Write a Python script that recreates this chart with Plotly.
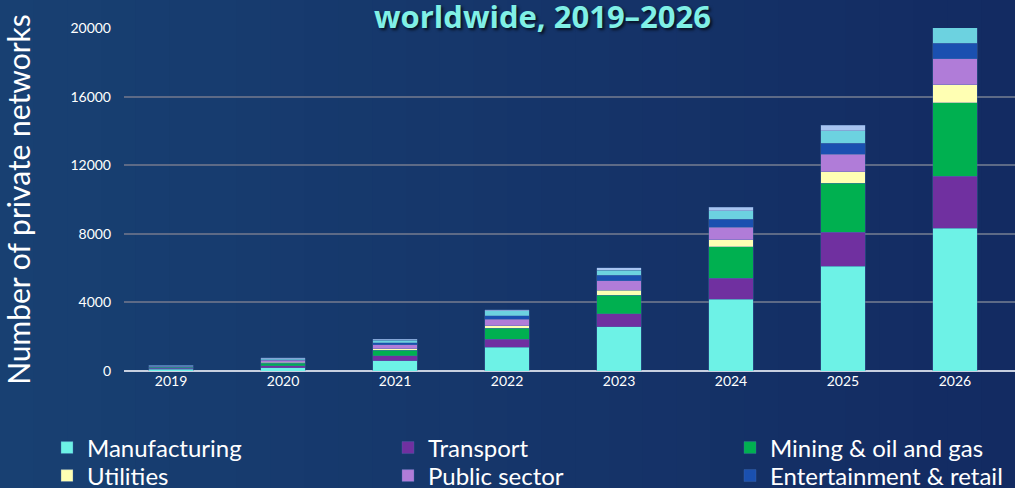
import plotly.graph_objects as go

years = ["2019", "2020", "2021", "2022", "2023", "2024", "2025", "2026"]
manufacturing = [110, 195, 600, 1380, 2585, 4180, 6120, 8320]
transport = [60, 115, 290, 485, 755, 1225, 1965, 3050]
mining = [55, 155, 310, 625, 1090, 1845, 2860, 4275]
utilities = [20, 60, 100, 150, 290, 390, 675, 1050]
public_sector = [45, 100, 235, 390, 530, 740, 1030, 1515]
entertainment = [20, 35, 115, 195, 330, 465, 625, 890]
healthcare = [25, 60, 140, 275, 290, 485, 735, 1300]
other = [15, 40, 60, 60, 155, 215, 315, 400]

y_ticks = [0, 4000, 8000, 12000, 16000, 20000]

# name, values, colour, legend id (None = not in visible legend)
series = [
    ("Manufacturing", manufacturing, "#6df2e6", "legend"),
    ("Transport", transport, "#7030a0", "legend2"),
    ("Mining & oil and gas", mining, "#00b050", "legend3"),
    ("Utilities", utilities, "#ffffb3", "legend4"),
    ("Public sector", public_sector, "#b07cd8", "legend5"),
    ("Entertainment & retail", entertainment, "#1a50b0", "legend6"),
    ("Healthcare", healthcare, "#6cd2e0", None),
    ("Other", other, "#a8c4f0", None),
]

W, H = 1015, 488
L, R, T, B = 124, 0, 28, 117
PW, PH = W - L - R, H - T - B

fig = go.Figure()
for name, vals, col, leg in series:
    kw = dict(legend=leg) if leg else dict(showlegend=False)
    fig.add_trace(go.Bar(
        x=years, y=vals, name=name, width=0.4,
        marker=dict(color=col, line=dict(color="rgba(70,110,170,0.6)", width=0.6)),
        **kw,
    ))

# background gradient strips
shapes = []
n = 30
c0 = (24, 64, 114)
c1 = (19, 43, 98)
for i in range(n):
    t = i / (n - 1)
    c = tuple(int(round(c0[k] + (c1[k] - c0[k]) * t)) for k in range(3))
    x0 = -L / PW + i * (W / PW) / n
    x1 = x0 + (W / PW) / n + 0.002
    shapes.append(dict(type="rect", xref="paper", yref="paper",
                       x0=x0, x1=x1, y0=-0.5, y1=1.2,
                       fillcolor="rgb(%d,%d,%d)" % c, line=dict(width=0), layer="below"))


def px_x(px):
    return (px - L) / PW


def px_y(py):
    return (H - B - py) / PH


col_x = [47, 388, 730]
row_y = [448, 476]
legend_font = dict(size=24, color="#ffffff", family="Lato")
legends = {}
ids = ["legend", "legend2", "legend3", "legend4", "legend5", "legend6"]
for idx, lid in enumerate(ids):
    r, c = divmod(idx, 3)
    legends[lid] = dict(
        x=px_x(col_x[c]), xanchor="left", y=px_y(row_y[r]), yanchor="middle",
        font=legend_font, bgcolor="rgba(0,0,0,0)", borderwidth=0,
    )

fig.update_layout(
    width=W, height=H,
    margin=dict(l=L, r=R, t=T, b=B, autoexpand=False),
    paper_bgcolor="#163668",
    plot_bgcolor="rgba(0,0,0,0)",
    barmode="stack",
    shapes=shapes,
    font=dict(family="Lato", color="#ffffff"),
    xaxis=dict(
        type="category", range=[-0.42, 7.536], showgrid=False,
        tickfont=dict(size=14, color="#ffffff", family="Lato"),
        ticks="", showline=False, zeroline=False,
    ),
    yaxis=dict(
        range=[0, 20000], tickvals=y_ticks, ticktext=[str(v) for v in y_ticks],
        showgrid=True, gridcolor="#5d6a86", gridwidth=2,
        zeroline=True, zerolinecolor="#c8d0e0", zerolinewidth=2,
        tickfont=dict(size=14, color="#ffffff", family="Lato"),
        ticklabelstandoff=12,
        title=dict(text="Number of private networks",
                   font=dict(size=30, color="#ffffff", family="Lato"), standoff=30),
    ),
    annotations=[dict(
        text="<b>worldwide, 2019–2026</b>", xref="paper", yref="paper",
        x=px_x(542), y=px_y(16), xanchor="center", yanchor="middle", showarrow=False,
        font=dict(size=31, color="#80f0e6", family="Open Sans",
                  shadow="2px 2px 3px rgba(0,0,0,0.7)"),
    )],
    **legends,
)

fig.write_html("out.html", config={"displayModeBar": False},
               post_script="document.body.style.margin='0';")
